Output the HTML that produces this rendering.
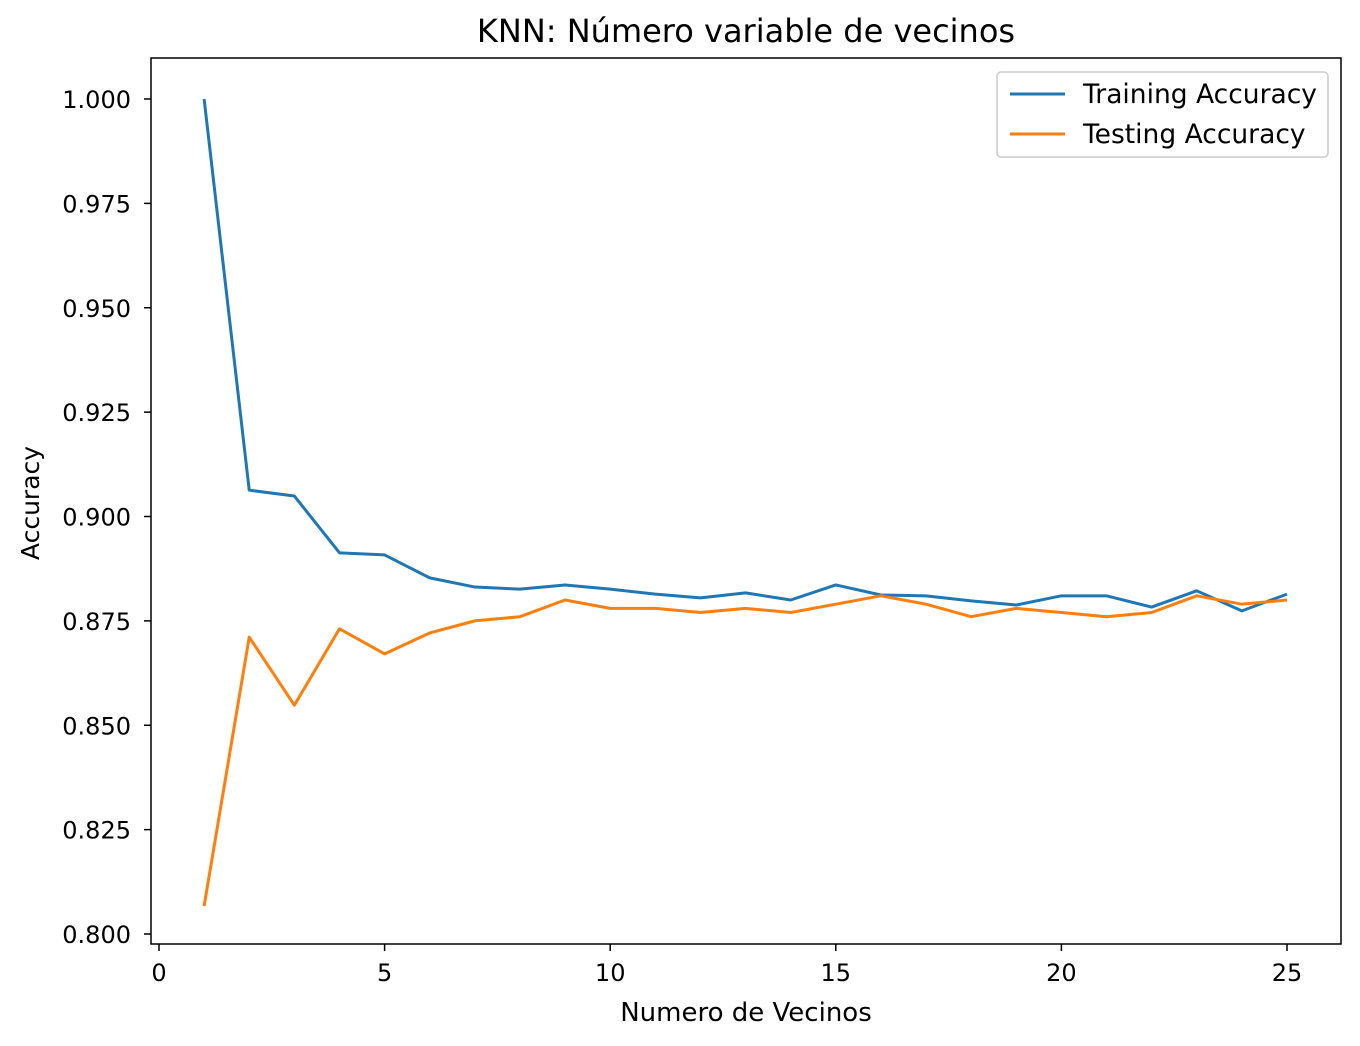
<!DOCTYPE html>
<html><head><meta charset="utf-8"><style>
html,body{margin:0;padding:0;background:#fff;}
svg{display:block;font-family:"DejaVu Sans","Liberation Sans",sans-serif;}
</style></head><body>
<svg id="chart" width="1360" height="1046" xmlns="http://www.w3.org/2000/svg"></svg>
<script>
const neighbors=[1,2,3,4,5,6,7,8,9,10,11,12,13,14,15,16,17,18,19,20,21,22,23,24,25];
const trainAcc=[1.000,0.9063,0.9049,0.8913,0.8908,0.8853,0.8831,0.8826,0.8836,0.8826,0.8814,0.8805,0.8817,0.8800,0.8836,0.8812,0.8810,0.8798,0.8788,0.8810,0.8810,0.8783,0.8822,0.8774,0.8814];
const testAcc=[0.8067,0.8711,0.8548,0.8731,0.8671,0.8721,0.875,0.876,0.880,0.878,0.878,0.877,0.878,0.877,0.879,0.881,0.879,0.876,0.878,0.877,0.876,0.877,0.881,0.879,0.880];
const xTicks=[0,5,10,15,20,25];
const yTicks=[0.800,0.825,0.850,0.875,0.900,0.925,0.950,0.975,1.000];

const NS="http://www.w3.org/2000/svg";
const svg=document.getElementById('chart');
const L=151,R=1341,T=58,B=944;
const xs=v=>159+(v-0)*(1287-159)/25;
const ys=v=>934-(v-0.8)*(934-99)/0.2;
function el(tag,attrs,parent){const e=document.createElementNS(NS,tag);for(const k in attrs)e.setAttribute(k,attrs[k]);(parent||svg).appendChild(e);return e;}

const title=el('text',{x:746,y:42,'text-anchor':'middle','font-size':32});
title.textContent='KNN: Número variable de vecinos';



const frame=el('rect',{x:L,y:T,width:R-L,height:B-T,fill:'none',stroke:'#000','stroke-width':1.5});



xTicks.forEach(t=>{
  const g=el('g',{});
  
  
  el('line',{x1:xs(t),x2:xs(t),y1:B,y2:B+7,stroke:'#000','stroke-width':1.5},g);
  const tx=el('text',{x:xs(t),y:B+37,'text-anchor':'middle','font-size':24},g);tx.textContent=t;
});
yTicks.forEach(t=>{
  const g=el('g',{});
  
  
  el('line',{x1:L-7,x2:L,y1:ys(t),y2:ys(t),stroke:'#000','stroke-width':1.5},g);
  const tx=el('text',{x:L-20,y:ys(t)+9,'text-anchor':'end','font-size':24},g);tx.textContent=t.toFixed(3);
});
const xl=el('text',{x:746,y:1021,'text-anchor':'middle','font-size':26});xl.textContent='Numero de Vecinos';


const yl=el('text',{x:39,y:503,'text-anchor':'middle','font-size':25,transform:'rotate(-90 39 503)'});yl.textContent='Accuracy';



function line(vals,color,name){
  const p=el('polyline',{points:neighbors.map((n,i)=>xs(n)+','+ys(vals[i])).join(' '),fill:'none',stroke:color,'stroke-width':3,'stroke-linejoin':'round'});
  
  
}
line(trainAcc,'#1f77b4','training-accuracy-line');
line(testAcc,'#ff7f0e','testing-accuracy-line');

const lg=el('g',{});


el('rect',{x:997,y:72,width:331,height:85,rx:4,fill:'#fff',stroke:'#ccc','stroke-width':1.5},lg);
[['Training Accuracy','#1f77b4',94],['Testing Accuracy','#ff7f0e',134]].forEach(([lab,c,y])=>{
  const g=el('g',{},lg);
  
  
  el('line',{x1:1010,x2:1065,y1:y,y2:y,stroke:c,'stroke-width':3},g);
  const t=el('text',{x:1083,y:y+9,'font-size':26.5},g);t.textContent=lab;
});
</script>
</body></html>
